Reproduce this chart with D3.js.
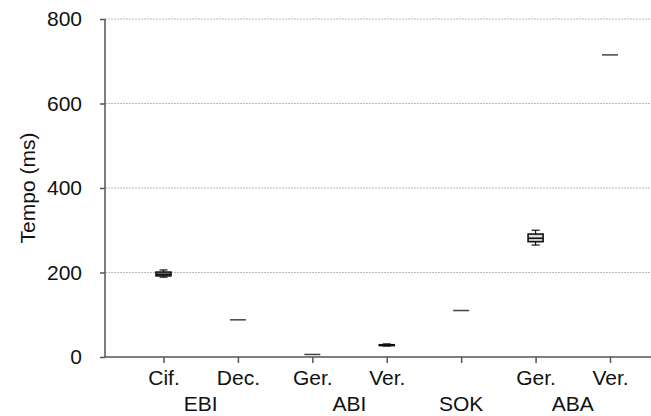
<!DOCTYPE html>
<html><head><meta charset="utf-8">
<script src="https://cdn.jsdelivr.net/npm/d3@7"></script>
<style>
html,body{margin:0;padding:0;background:#fff;}
svg{display:block;font-family:"Liberation Sans",Arial,sans-serif;}
</style></head>
<body>
<script>
const categories = ["Cif.", "Dec.", "Ger.", "Ver.", "", "Ger.", "Ver."];
const groups = [
  {label: "EBI", from: 0, to: 1},
  {label: "ABI", from: 2, to: 3},
  {label: "SOK", from: 4, to: 4},
  {label: "ABA", from: 5, to: 6}
];
const minVals    = [189, 88, 6, 26, 110, 265, 715];
const q1Vals     = [192, 88, 6, 27, 110, 273, 715];
const medianVals = [196, 88, 6, 28, 110, 281, 715];
const q3Vals     = [201, 88, 6, 29, 110, 291, 715];
const maxVals    = [206, 88, 6, 31, 110, 300, 715];
const yTicks = [0, 200, 400, 600, 800];
const yLabel = "Tempo (ms)";

const W = 651, H = 416;
const svg = d3.select("body").append("svg").attr("width", W).attr("height", H);

const axisLeftX = 105, plotRight = 651;
const y = d3.scaleLinear().domain([0, 800]).range([357, 19]);
const idx = categories.map((d, i) => i);
const x = d3.scalePoint().domain(idx).range([163.5, 610]);

// gridlines
svg.append("g").selectAll("line").data(yTicks.filter(d => d > 0)).join("line")
  .attr("x1", axisLeftX).attr("x2", plotRight)
  .attr("y1", d => y(d)).attr("y2", d => y(d))
  .attr("stroke", "#bbb").attr("stroke-width", 1).attr("stroke-dasharray", "2,1");

// y axis
const yAxis = d3.axisLeft(y).tickValues(yTicks).tickSize(5).tickPadding(18);
const gy = svg.append("g").attr("transform", `translate(${axisLeftX},0)`).call(yAxis);
gy.select(".domain").remove();
gy.append("line").attr("x1", 0).attr("x2", 0).attr("y1", y(800)).attr("y2", y(0))
  .attr("stroke", "#555").attr("stroke-width", 1.5);
gy.selectAll(".tick line").attr("stroke", "#555").attr("stroke-width", 1.5);
gy.selectAll(".tick text").attr("font-size", 21).attr("fill", "#111")
  .attr("font-family", "Liberation Sans, Arial, sans-serif");

// x axis
const xAxis = d3.axisBottom(x).tickFormat(i => categories[i]).tickSize(6).tickPadding(7);
const gx = svg.append("g").attr("transform", `translate(0,${y(0)})`).call(xAxis);
gx.select(".domain").remove();
gx.append("line").attr("x1", axisLeftX).attr("x2", plotRight).attr("y1", 0).attr("y2", 0)
  .attr("stroke", "#555").attr("stroke-width", 1.5);
gx.selectAll(".tick line").attr("stroke", "#555").attr("stroke-width", 1.5);
gx.selectAll(".tick text").attr("font-size", 21).attr("fill", "#111")
  .attr("font-family", "Liberation Sans, Arial, sans-serif");

// group labels
svg.append("g").selectAll("text").data(groups).join("text")
  .attr("x", d => (x(d.from) + x(d.to)) / 2)
  .attr("y", 411)
  .attr("text-anchor", "middle").attr("font-size", 21).attr("fill", "#111")
  .text(d => d.label);

// y label
svg.append("text")
  .attr("transform", `translate(35,${(y(0) + y(800)) / 2}) rotate(-90)`)
  .attr("text-anchor", "middle").attr("font-size", 21).attr("fill", "#111")
  .text(yLabel);

// boxes
const boxW = 15, capW = 8, flatW = 16;
const g = svg.append("g");
idx.forEach(i => {
  const cx = x(i);
  const flat = q1Vals[i] === q3Vals[i] && minVals[i] === maxVals[i];
  if (flat) {
    g.append("line").attr("x1", cx - flatW / 2).attr("x2", cx + flatW / 2)
      .attr("y1", y(medianVals[i])).attr("y2", y(medianVals[i]))
      .attr("stroke", "#444").attr("stroke-width", 1.5);
    return;
  }
  // whiskers
  g.append("line").attr("x1", cx).attr("x2", cx).attr("y1", y(maxVals[i])).attr("y2", y(q3Vals[i]))
    .attr("stroke", "#111").attr("stroke-width", 1.2);
  g.append("line").attr("x1", cx).attr("x2", cx).attr("y1", y(q1Vals[i])).attr("y2", y(minVals[i]))
    .attr("stroke", "#111").attr("stroke-width", 1.2);
  [minVals[i], maxVals[i]].forEach(v => {
    g.append("line").attr("x1", cx - capW / 2).attr("x2", cx + capW / 2)
      .attr("y1", y(v)).attr("y2", y(v)).attr("stroke", "#111").attr("stroke-width", 1.2);
  });
  g.append("rect").attr("x", cx - boxW / 2).attr("width", boxW)
    .attr("y", y(q3Vals[i])).attr("height", y(q1Vals[i]) - y(q3Vals[i]))
    .attr("fill", "#ddd").attr("stroke", "#111").attr("stroke-width", 1.6);
  g.append("line").attr("x1", cx - boxW / 2).attr("x2", cx + boxW / 2)
    .attr("y1", y(medianVals[i])).attr("y2", y(medianVals[i]))
    .attr("stroke", "#111").attr("stroke-width", 1.6);
});
</script>
</body></html>
